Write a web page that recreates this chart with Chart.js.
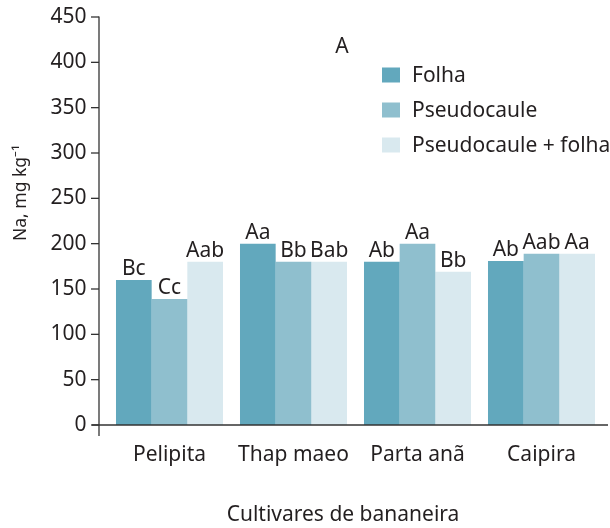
<!DOCTYPE html>
<html><head><meta charset="utf-8">
<script src="https://cdn.jsdelivr.net/npm/chart.js@4/dist/chart.umd.min.js"></script>
<style>html,body{margin:0;padding:0;background:#fff}#wrap{width:610px;height:528px}</style>
</head><body><div id="wrap"><canvas id="c" width="610" height="528"></canvas></div>
<script>
const categories = ['Pelipita', 'Thap maeo', 'Parta anã', 'Caipira'];
const seriesNames = ['Folha', 'Pseudocaule', 'Pseudocaule + folha'];
const folha = [160, 200, 180, 181];
const pseudocaule = [139, 180, 200, 189];
const pseudoFolha = [180, 180, 169, 189];
const folhaLetters = ['Bc', 'Aa', 'Ab', 'Ab'];
const pseudocauleLetters = ['Cc', 'Bb', 'Aa', 'Aab'];
const pseudoFolhaLetters = ['Aab', 'Bab', 'Bb', 'Aa'];
const yTicks = [0, 50, 100, 150, 200, 250, 300, 350, 400, 450];
const yTitle = 'Na, mg kg⁻¹';
const xTitle = 'Cultivares de bananeira';
const panelLabel = 'A';

const colors = ['#62a8bd', '#8fbfce', '#d9e9ef'];
const FONT = '"Noto Sans", "Open Sans", sans-serif';
const FS = 21;
const TXT = '#231f20';

const letterSets = [folhaLetters, pseudocauleLetters, pseudoFolhaLetters];

const deco = {
  id: 'deco',
  afterDatasetsDraw(chart) {
    const ctx = chart.ctx;
    const y = chart.scales.y;
    const xAxisX = 99;
    ctx.save();
    ctx.strokeStyle = '#333';
    ctx.lineWidth = 1.3;
    ctx.beginPath();
    ctx.moveTo(xAxisX, y.getPixelForValue(450) - 0.5);
    ctx.lineTo(xAxisX, y.getPixelForValue(0) + 11);
    ctx.stroke();
    yTicks.forEach(v => {
      const py = y.getPixelForValue(v);
      ctx.beginPath();
      ctx.moveTo(xAxisX - 8, py);
      ctx.lineTo(xAxisX, py);
      ctx.stroke();
    });
    const by = y.getPixelForValue(0);
    ctx.beginPath();
    ctx.moveTo(92, by);
    ctx.lineTo(608, by);
    ctx.stroke();

    ctx.fillStyle = TXT;
    ctx.font = FS + 'px ' + FONT;
    ctx.textAlign = 'center';
    ctx.textBaseline = 'alphabetic';
    chart.data.datasets.forEach((ds, di) => {
      const meta = chart.getDatasetMeta(di);
      meta.data.forEach((bar, i) => {
        ctx.fillText(letterSets[di][i], bar.x, bar.y - 5);
      });
    });

    ctx.textBaseline = 'middle';
    ctx.fillText(panelLabel, 342, 47);

    ctx.textAlign = 'left';
    seriesNames.forEach((n, i) => {
      const cy = 75 + i * 35;
      ctx.fillStyle = colors[i];
      ctx.fillRect(382, cy - 7.5, 18, 15);
      ctx.fillStyle = TXT;
      ctx.fillText(n, 412, cy + 1);
    });

    ctx.textAlign = 'center';
    ctx.fillText(xTitle, 343, 515);

    ctx.save();
    ctx.translate(21, 193);
    ctx.rotate(-Math.PI / 2);
    ctx.font = '17.5px ' + FONT;
    ctx.fillText(yTitle, 0, 0);
    ctx.restore();
    ctx.restore();
  }
};

new Chart(document.getElementById('c'), {
  type: 'bar',
  data: {
    labels: categories,
    datasets: [
      { label: seriesNames[0], data: folha, backgroundColor: colors[0] },
      { label: seriesNames[1], data: pseudocaule, backgroundColor: colors[1] },
      { label: seriesNames[2], data: pseudoFolha, backgroundColor: colors[2] }
    ]
  },
  options: {
    responsive: false,
    animation: false,
    layout: { padding: { top: 17, right: 6.5, bottom: 0, left: 0 } },
    datasets: { bar: { categoryPercentage: 0.863, barPercentage: 1.0, borderWidth: 0 } },
    plugins: { legend: { display: false }, tooltip: { enabled: false } },
    scales: {
      x: {
        grid: { display: false, drawTicks: false },
        border: { display: false },
        ticks: { font: { family: FONT, size: FS }, color: TXT, padding: 17, maxRotation: 0 },
        afterFit: s => { s.height = 103; s.paddingLeft = 0; s.paddingRight = 0; }
      },
      y: {
        min: 0, max: 450,
        grid: { display: false, drawTicks: false },
        border: { display: false },
        ticks: { stepSize: 50, font: { family: FONT, size: FS }, color: TXT, padding: 21 },
        afterFit: s => { s.width = 107.5; s.paddingTop = 0; s.paddingBottom = 0; }
      }
    }
  },
  plugins: [deco]
});
</script></body></html>
